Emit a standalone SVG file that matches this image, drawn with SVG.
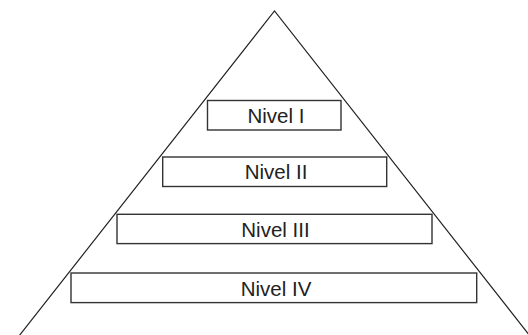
<svg xmlns="http://www.w3.org/2000/svg" width="528" height="335" viewBox="0 0 528 335">
  <style>
    .edge { fill: none; stroke: #222; stroke-width: 1.2; }
    .box { fill: #fff; stroke: #333; stroke-width: 1.4; }
    .label { font-family: "Liberation Sans", Arial, Helvetica, sans-serif; font-size: 20.5px; fill: #222; text-anchor: middle; }
  </style>
  <rect x="0" y="0" width="528" height="335" fill="#fff"/>
  <g id="connectors">
    <polyline class="edge" points="19,336 274.5,11 530,336"/>
  </g>
  <g id="nivel-1">
    <rect class="box" x="207.5" y="100.5" width="133.5" height="29.5"/>
    <text class="label" x="276" y="122.7">Nivel I</text>
  </g>
  <g id="nivel-2">
    <rect class="box" x="162.7" y="157" width="224" height="29.5"/>
    <text class="label" x="276" y="179.3">Nivel II</text>
  </g>
  <g id="nivel-3">
    <rect class="box" x="117" y="214.3" width="315" height="29.3"/>
    <text class="label" x="275.5" y="237">Nivel III</text>
  </g>
  <g id="nivel-4">
    <rect class="box" x="71" y="273" width="405.7" height="29.6"/>
    <text class="label" x="276" y="295.5">Nivel IV</text>
  </g>
</svg>
